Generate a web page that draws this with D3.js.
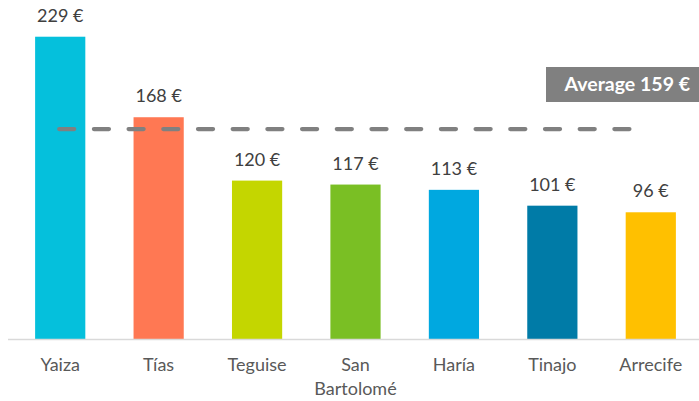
<!DOCTYPE html>
<html>
<head>
<meta charset="utf-8">
<script src="https://cdn.jsdelivr.net/npm/d3@7"></script>
<style>
  body { margin: 0; background: #fff; }
  svg { display: block; font-family: Lato, "Open Sans", sans-serif; }
</style>
</head>
<body>
<svg id="chart"></svg>
<script>
// --- data ---
const towns = ["Yaiza", "Tías", "Teguise", "San Bartolomé", "Haría", "Tinajo", "Arrecife"];
const prices = [229, 168, 120, 117, 113, 101, 96];
const barColors = ["#05C0DC", "#FF7853", "#C4D600", "#7ABF24", "#00A8E0", "#007BA7", "#FFC000"];
const average = 159;

const width = 699, height = 401;
const svg = d3.select("#chart").attr("width", width).attr("height", height);

// scales
const x = d3.scaleBand().domain(towns).range([11, 700]).paddingInner(0.49).paddingOuter(0.245);
const y = d3.scaleLinear().domain([0, 250]).range([339, 9]);

// bars
svg.selectAll("rect.bar")
  .data(towns)
  .enter().append("rect")
  .attr("class", "bar")
  .attr("x", d => x(d))
  .attr("width", x.bandwidth())
  .attr("y", (d, i) => y(prices[i]))
  .attr("height", (d, i) => y(0) - y(prices[i]))
  .attr("fill", (d, i) => barColors[i]);

// value labels
svg.selectAll("text.val")
  .data(towns)
  .enter().append("text")
  .attr("class", "val")
  .attr("x", d => x(d) + x.bandwidth() / 2)
  .attr("y", (d, i) => y(prices[i]) - 15)
  .attr("text-anchor", "middle")
  .attr("font-size", 18)
  .attr("fill", "#404040")
  .text((d, i) => prices[i] + " €");

// axis baseline
svg.append("line")
  .attr("x1", 8).attr("x2", width)
  .attr("y1", y(0) + 0.5).attr("y2", y(0) + 0.5)
  .attr("stroke", "#d9d9d9").attr("stroke-width", 1.5);

// category labels (wrap on space for long names)
const xAxis = svg.append("g").attr("class", "x-labels");
towns.forEach(t => {
  const lines = t.length > 10 ? t.split(" ") : [t];
  const txt = xAxis.append("text")
    .attr("x", x(t) + x.bandwidth() / 2)
    .attr("y", 371)
    .attr("text-anchor", "middle")
    .attr("font-size", 18)
    .attr("fill", "#595959");
  lines.forEach((l, j) => {
    txt.append("tspan")
      .attr("x", x(t) + x.bandwidth() / 2)
      .attr("dy", j === 0 ? 0 : 24)
      .text(l);
  });
});

// average line
svg.append("line")
  .attr("x1", x("Yaiza") + x.bandwidth() * 0.48)
  .attr("x2", x("Arrecife") + x.bandwidth() * 0.14)
  .attr("y1", y(average)).attr("y2", y(average))
  .attr("stroke", "#808080")
  .attr("stroke-width", 4.3)
  .attr("stroke-linecap", "round")
  .attr("stroke-dasharray", "15 19.7");

// average label
const avgG = svg.append("g");
avgG.append("rect")
  .attr("x", 546).attr("y", 67)
  .attr("width", 153).attr("height", 35)
  .attr("fill", "#808080");
avgG.append("text")
  .attr("x", 690).attr("y", 91)
  .attr("text-anchor", "end")
  .attr("font-size", 19.5)
  .attr("font-weight", "bold")
  .attr("fill", "#fff")
  .text("Average " + average + " €");
</script>
</body>
</html>
